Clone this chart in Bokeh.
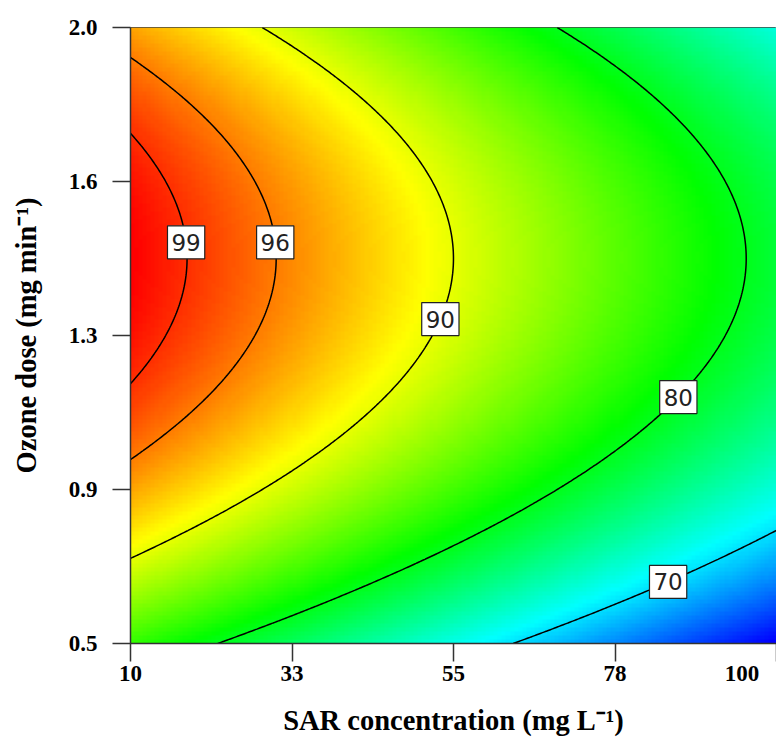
import numpy as np
from bokeh.plotting import figure
from bokeh.models import LinearColorMapper, FixedTicker, ColumnDataSource
from bokeh.core.properties import value
from bokeh.embed import file_html
from bokeh.resources import INLINE

# ---------------- data ----------------
sar_limits = [10, 100]          # SAR concentration (mg/L)
ozone_limits = [0.5, 2.0]       # ozone dose (mg/min)
x_ticks = [10, 32.5, 55, 77.5, 100]
x_tick_labels = ["10", "33", "55", "78", "100"]
y_ticks = [0.5, 0.875, 1.25, 1.625, 2.0]
y_tick_labels = ["0.5", "0.9", "1.3", "1.6", "2.0"]

# quadratic response-surface model in coded units (A = SAR, B = ozone dose),
# coefficients estimated from the contour positions in the picture
coef_b0 = 89.28
coef_A = -10.97
coef_B = 5.75
coef_AB = 0.0
coef_AA = -0.07
coef_BB = -11.5

contour_levels = [70, 80, 90, 96, 99]
label_levels = [99, 96, 90, 80, 70]
label_ozone = [1.477, 1.477, 1.29, 1.10, 0.65]

# ---------------- model evaluation ----------------
sar_c = (sar_limits[0] + sar_limits[1]) / 2
sar_h = (sar_limits[1] - sar_limits[0]) / 2
oz_c = (ozone_limits[0] + ozone_limits[1]) / 2
oz_h = (ozone_limits[1] - ozone_limits[0]) / 2


def removal(sar, ozone):
    A = (sar - sar_c) / sar_h
    B = (ozone - oz_c) / oz_h
    return (coef_b0 + coef_A * A + coef_B * B + coef_AB * A * B
            + coef_AA * A ** 2 + coef_BB * B ** 2)


# image grid (cell centres)
nx, ny = 160, 154
dw = sar_limits[1] - sar_limits[0]
dh = ozone_limits[1] - ozone_limits[0]
xi = sar_limits[0] + (np.arange(nx) + 0.5) * dw / nx
yi = ozone_limits[0] + (np.arange(ny) + 0.5) * dh / ny
XI, YI = np.meshgrid(xi, yi)
ZI = removal(XI, YI)

# contour grid (including edges)
xc = np.linspace(sar_limits[0], sar_limits[1], 301)
yc = np.linspace(ozone_limits[0], ozone_limits[1], 301)
XC, YC = np.meshgrid(xc, yc)
ZC = removal(XC, YC)

# label positions: on each contour at the given ozone dose
label_x = []
for lev, oz in zip(label_levels, label_ozone):
    B = (oz - oz_c) / oz_h
    roots = np.roots([coef_AA, coef_A + coef_AB * B,
                      coef_b0 + coef_B * B + coef_BB * B ** 2 - lev])
    roots = [r.real for r in roots if abs(r.imag) < 1e-9 and -1.05 <= r.real <= 1.05]
    label_x.append(sar_c + sar_h * roots[0])

# ---------------- palette: blue - cyan - green - yellow - red ----------------
anchors = np.array([[0, 0, 255], [0, 255, 255], [0, 255, 0], [255, 255, 0], [255, 0, 0]], float)
t = np.linspace(0, 1, 256)
pos = np.linspace(0, 1, len(anchors))
rgb = np.stack([np.interp(t, pos, anchors[:, k]) for k in range(3)], axis=1)
palette = ["#%02x%02x%02x" % tuple(int(round(c)) for c in row) for row in rgb]
mapper = LinearColorMapper(palette=palette, low=float(ZI.min()), high=float(ZI.max()))

# ---------------- figure ----------------
p = figure(width=776, height=743,
           x_range=(sar_limits[0], sar_limits[1]),
           y_range=(ozone_limits[0], ozone_limits[1]),
           output_backend="svg", toolbar_location=None,
           min_border_left=130, min_border_right=0,
           min_border_top=27, min_border_bottom=100)
p.background_fill_color = "white"
p.border_fill_color = "white"
p.outline_line_color = "#444444"
p.outline_line_width = 1
p.xgrid.visible = False
p.ygrid.visible = False

p.image(image=[ZI], x=sar_limits[0], y=ozone_limits[0], dw=dw, dh=dh, color_mapper=mapper)

p.contour(x=xc, y=yc, z=ZC, levels=contour_levels,
          line_color="black", line_width=1.5, fill_color=None)

src = ColumnDataSource(dict(x=label_x, y=label_ozone, text=[str(v) for v in label_levels]))
p.text(x="x", y="y", text="text", source=src,
       text_align="center", text_baseline="middle",
       text_font=value("DejaVu Sans"), text_font_size="23px", text_color="#222222",
       background_fill_color="white", border_line_color="#222222", border_line_width=1.2,
       padding=(4, 8))

# axes
p.xaxis.ticker = FixedTicker(ticks=x_ticks)
x_overrides = {float(k): v for k, v in zip(x_ticks, x_tick_labels)}
# keep the last label inside the canvas (it sits at the right edge)
x_overrides[float(x_ticks[-1])] = x_tick_labels[-1] + "\u00a0" * 3
p.xaxis.major_label_overrides = x_overrides
p.yaxis.ticker = FixedTicker(ticks=y_ticks)
p.yaxis.major_label_overrides = {float(k): v for k, v in zip(y_ticks, y_tick_labels)}

p.xaxis.axis_label = "SAR concentration (mg L\u207b\u00b9)"
p.yaxis.axis_label = "Ozone dose (mg min\u207b\u00b9)"

for ax in (p.xaxis[0], p.yaxis[0]):
    ax.major_label_text_font = "Liberation Serif"
    ax.major_label_text_font_style = "bold"
    ax.major_label_text_font_size = "23px"
    ax.major_label_text_color = "black"
    ax.axis_label_text_font = "Liberation Serif"
    ax.axis_label_text_font_style = "bold"
    ax.axis_label_text_font_size = "28.5px"
    ax.axis_label_text_color = "black"
    ax.major_tick_out = 18
    ax.major_tick_in = 0
    ax.minor_tick_out = 0
    ax.minor_tick_in = 0
    ax.major_tick_line_color = "#333333"
    ax.major_tick_line_width = 1.5
    ax.axis_line_color = "#333333"
    ax.axis_line_width = 1.5

p.xaxis.major_label_standoff = -1
p.xaxis.axis_label_standoff = 16
p.yaxis.major_label_standoff = 15
p.yaxis.axis_label_standoff = 24

open("out.html", "w").write(file_html(p, INLINE))
